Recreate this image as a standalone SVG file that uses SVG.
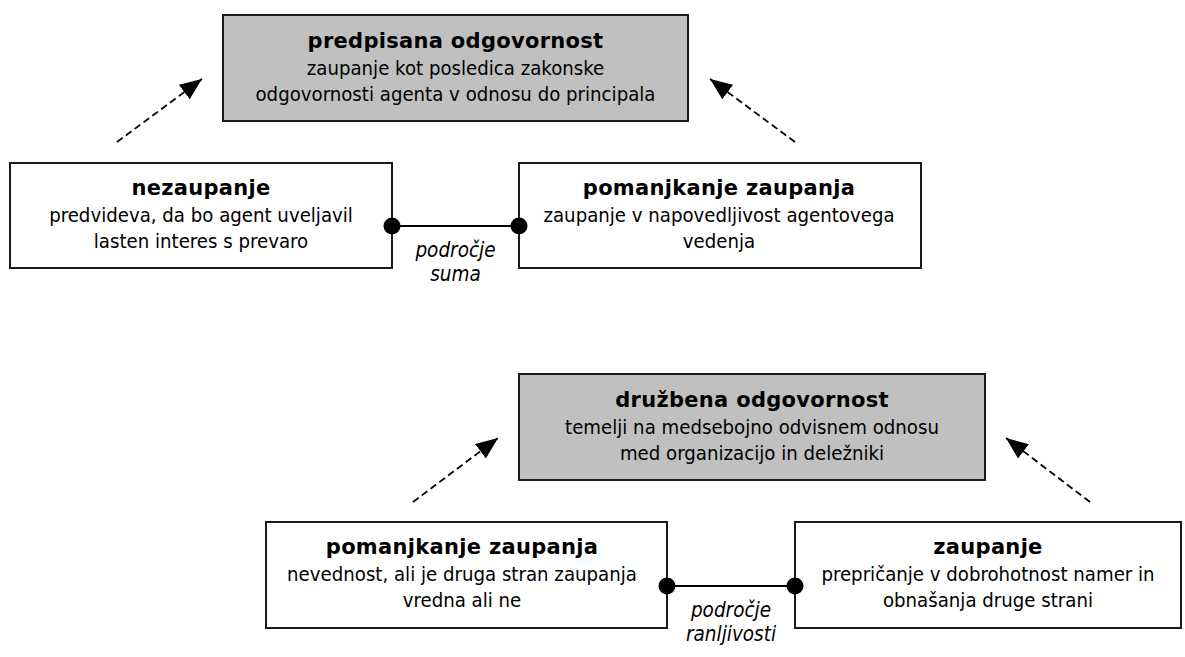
<svg xmlns="http://www.w3.org/2000/svg" width="1185" height="657" viewBox="0 0 1185 657">
<style>
.box{fill:#ffffff;stroke:#1a1a1a;stroke-width:2}
.gbox{fill:#c0c0c0;stroke:#1a1a1a;stroke-width:2}
text{font-family:"DejaVu Sans Condensed","DejaVu Sans",sans-serif;font-size:20.2px;fill:#000;text-anchor:middle}
.t{font-family:"DejaVu Sans",sans-serif;font-weight:bold;font-size:21px;letter-spacing:0.3px}
.lbl{font-style:italic;font-size:20.5px}
.dash{stroke:#000;stroke-width:1.8;stroke-dasharray:7,4;fill:none}
.link{stroke:#000;stroke-width:2}
.dot{fill:#000}
</style>
<defs>
<marker id="ah" markerUnits="userSpaceOnUse" markerWidth="24" markerHeight="20" refX="22" refY="9" orient="auto">
<path d="M0,0 L22,9 L0,18 Z" fill="#000"/>
</marker>
</defs>
<g id="predpisana">
<rect class="gbox" x="223" y="15" width="465" height="106"/>
<text x="455.5" y="48" class="t">predpisana odgovornost</text>
<text x="455.5" y="75">zaupanje kot posledica zakonske</text>
<text x="455.5" y="101">odgovornosti agenta v odnosu do principala</text>
</g>
<g id="nezaupanje">
<rect class="box" x="10" y="163" width="382" height="105"/>
<text x="201" y="195" class="t">nezaupanje</text>
<text x="201" y="222">predvideva, da bo agent uveljavil</text>
<text x="201" y="248">lasten interes s prevaro</text>
</g>
<g id="pomanjkanje1">
<rect class="box" x="519" y="163" width="402" height="105"/>
<text x="719" y="195" class="t">pomanjkanje zaupanja</text>
<text x="719" y="222">zaupanje v napovedljivost agentovega</text>
<text x="719" y="248">vedenja</text>
</g>
<g id="druzbena">
<rect class="gbox" x="519" y="374" width="466" height="106"/>
<text x="752" y="407" class="t">družbena odgovornost</text>
<text x="752" y="434">temelji na medsebojno odvisnem odnosu</text>
<text x="752" y="460">med organizacijo in deležniki</text>
</g>
<g id="pomanjkanje2">
<rect class="box" x="266" y="522" width="401" height="106"/>
<text x="462" y="554" class="t">pomanjkanje zaupanja</text>
<text x="462" y="581">nevednost, ali je druga stran zaupanja</text>
<text x="462" y="607">vredna ali ne</text>
</g>
<g id="zaupanje">
<rect class="box" x="795" y="522" width="386" height="106"/>
<text x="988" y="554" class="t">zaupanje</text>
<text x="988" y="581">prepričanje v dobrohotnost namer in</text>
<text x="988" y="607">obnašanja druge strani</text>
</g>
<g id="connectors">
<line class="dash" x1="117" y1="142" x2="202" y2="79" marker-end="url(#ah)"/>
<line class="dash" x1="795" y1="142" x2="710" y2="79" marker-end="url(#ah)"/>
<line class="dash" x1="413" y1="502" x2="498" y2="438" marker-end="url(#ah)"/>
<line class="dash" x1="1090" y1="502" x2="1006" y2="438" marker-end="url(#ah)"/>
<line class="link" x1="392" y1="226" x2="519" y2="226"/>
<circle class="dot" cx="392" cy="226" r="8.5"/>
<circle class="dot" cx="519" cy="226" r="8.5"/>
<text class="lbl" x="455.5" y="257">področje</text>
<text class="lbl" x="455.5" y="281">suma</text>
<line class="link" x1="667" y1="586" x2="795" y2="586"/>
<circle class="dot" cx="667" cy="586" r="8.5"/>
<circle class="dot" cx="795" cy="586" r="8.5"/>
<text class="lbl" x="731" y="617">področje</text>
<text class="lbl" x="731" y="641">ranljivosti</text>
</g>
</svg>
